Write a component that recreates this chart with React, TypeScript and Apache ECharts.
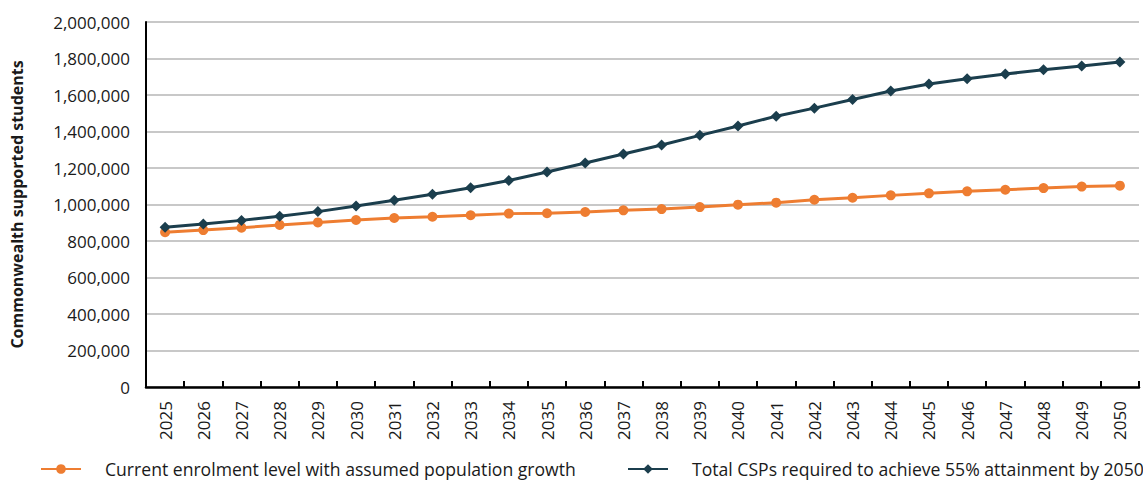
import React, { useEffect, useRef } from "react";
import * as echarts from "echarts";

const years = [
  "2025", "2026", "2027", "2028", "2029", "2030", "2031", "2032", "2033",
  "2034", "2035", "2036", "2037", "2038", "2039", "2040", "2041", "2042",
  "2043", "2044", "2045", "2046", "2047", "2048", "2049", "2050",
];

const currentEnrolment = [
  848000, 860000, 873000, 888000, 902000, 915000, 926000, 933000, 941000,
  950000, 952000, 959000, 968000, 975000, 986000, 999000, 1010000, 1026000,
  1037000, 1050000, 1061000, 1072000, 1081000, 1090000, 1098000, 1103000,
];

const totalCSPs = [
  875000, 893000, 913000, 935000, 961000, 992000, 1023000, 1056000, 1092000,
  1132000, 1178000, 1227000, 1277000, 1326000, 1379000, 1430000, 1484000, 1528000,
  1575000, 1622000, 1660000, 1689000, 1715000, 1738000, 1759000, 1781000,
];

const seriesNames = [
  "Current enrolment level with assumed population growth",
  "Total CSPs required to achieve 55% attainment by 2050",
];

const yAxisTitle = "Commonwealth supported students";

const FONT = "'Open Sans', 'Noto Sans', sans-serif";
const ORANGE = "#EE7D31";
const DARK = "#1B3E4D";

export default function App() {
  const ref = useRef<HTMLDivElement>(null);

  useEffect(() => {
    if (!ref.current) return;
    const chart = echarts.init(ref.current, undefined, { renderer: "svg" });
    const legendText = {
      fontFamily: FONT,
      fontSize: 17.6,
      color: "#1a1a1a",
      padding: [0, 0, 0, 19],
    };
    chart.setOption({
      animation: false,
      backgroundColor: "#ffffff",
      textStyle: { fontFamily: FONT },
      grid: {
        left: 146,
        right: 4,
        top: 22,
        bottom: 98,
        containLabel: false,
        outerBoundsMode: "none",
      },
      legend: [
        {
          data: [seriesNames[0]],
          left: 40,
          top: 460,
          padding: 0,
          itemWidth: 40,
          itemHeight: 12,
          textStyle: legendText,
        },
        {
          data: [seriesNames[1]],
          left: 627,
          top: 460,
          padding: 0,
          itemWidth: 40,
          itemHeight: 12,
          textStyle: legendText,
        },
      ],
      xAxis: {
        type: "category",
        data: years,
        boundaryGap: true,
        axisLine: { show: true, lineStyle: { color: "#000", width: 2.5 } },
        axisTick: {
          show: true,
          inside: true,
          length: 6,
          lineStyle: { color: "#000", width: 2 },
        },
        axisLabel: {
          rotate: 90,
          margin: 14,
          fontSize: 17,
          color: "#1a1a1a",
          fontFamily: FONT,
        },
        splitLine: { show: false },
      },
      yAxis: {
        type: "value",
        min: 0,
        max: 2000000,
        interval: 200000,
        name: yAxisTitle,
        nameLocation: "middle",
        nameGap: 121,
        nameTextStyle: {
          fontFamily: FONT,
          fontSize: 16,
          fontWeight: "bold",
          color: "#1a1a1a",
        },
        axisLine: { show: true, lineStyle: { color: "#000", width: 2 } },
        axisTick: { show: false },
        axisLabel: {
          margin: 16,
          fontSize: 17,
          color: "#1a1a1a",
          fontFamily: FONT,
          formatter: (v: number) => v.toLocaleString("en-US"),
        },
        splitLine: { show: true, lineStyle: { color: "#c8c8c8", width: 2 } },
      },
      series: [
        {
          name: seriesNames[0],
          type: "line",
          data: currentEnrolment,
          symbol: "circle",
          symbolSize: 10,
          itemStyle: { color: ORANGE },
          lineStyle: { color: ORANGE, width: 3 },
        },
        {
          name: seriesNames[1],
          type: "line",
          data: totalCSPs,
          symbol: "diamond",
          symbolSize: 11,
          itemStyle: { color: DARK },
          lineStyle: { color: DARK, width: 3 },
        },
      ],
    });
    return () => chart.dispose();
  }, []);

  return (
    <div
      ref={ref}
      style={{ position: "fixed", left: 0, top: 0, width: 1143, height: 485 }}
    />
  );
}
